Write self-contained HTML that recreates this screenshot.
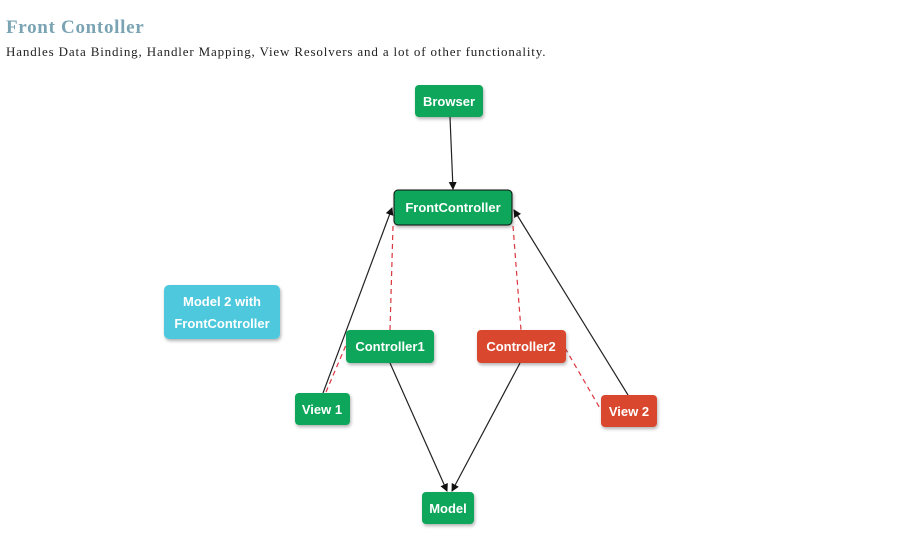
<!DOCTYPE html>
<html><head><style>
body{margin:0;width:916px;height:556px;background:#fff;overflow:hidden;position:relative}
h1{position:absolute;left:6px;top:17px;margin:0;font:bold 19px "Liberation Serif",serif;color:#7aa4b3;letter-spacing:0.7px}
p{position:absolute;left:6px;top:44px;margin:0;font:13px "Liberation Serif",serif;color:#222;letter-spacing:0.85px}
svg{position:absolute;left:0;top:0}
text{font:bold 13px "Liberation Sans",sans-serif;fill:#fff;text-anchor:middle}
</style></head><body>
<h1>Front Contoller</h1>
<p>Handles Data Binding, Handler Mapping, View Resolvers and a lot of other functionality.</p>
<svg width="916" height="556">
<defs>
<marker id="a" markerWidth="8" markerHeight="8" refX="7" refY="4" orient="auto" markerUnits="userSpaceOnUse"><path d="M0,0L8,4L0,8z" fill="#111"/></marker>
<filter id="s"><feDropShadow dx="1" dy="2" stdDeviation="1.5" flood-opacity="0.3"/></filter>
</defs>
<g stroke="#d9363e" stroke-width="1.2" stroke-dasharray="5,4" fill="none">
<line x1="393" y1="226" x2="390" y2="330"/>
<line x1="513" y1="226" x2="521" y2="330"/>
<line x1="565" y1="348" x2="601" y2="410"/>
<line x1="326" y1="392" x2="346" y2="345"/>
</g>
<g stroke="#222" stroke-width="1.2" fill="none" marker-end="url(#a)">
<line x1="450" y1="117" x2="453" y2="189"/>
<line x1="323" y1="393" x2="392" y2="208"/>
<line x1="628" y1="395" x2="514" y2="210"/>
<line x1="390" y1="363" x2="447" y2="491"/>
<line x1="520" y1="363" x2="452" y2="491"/>
</g>
<g filter="url(#s)">
<rect x="415" y="85" width="68" height="32" rx="4" fill="#0aa65a"/>
<rect x="394" y="190" width="118" height="35" rx="4" fill="#0aa65a" stroke="#111" stroke-width="1"/>
<rect x="164" y="285" width="116" height="54" rx="5" fill="#4dc8dc"/>
<rect x="346" y="330" width="88" height="33" rx="4" fill="#0aa65a"/>
<rect x="477" y="330" width="89" height="33" rx="4" fill="#d9472f"/>
<rect x="295" y="393" width="55" height="32" rx="4" fill="#0aa65a"/>
<rect x="601" y="395" width="56" height="32" rx="4" fill="#d9472f"/>
<rect x="422" y="492" width="52" height="32" rx="4" fill="#0aa65a"/>
</g>
<text x="449" y="106">Browser</text>
<text x="453" y="212">FrontController</text>
<text x="222" y="306">Model 2 with</text>
<text x="222" y="328">FrontController</text>
<text x="390" y="351">Controller1</text>
<text x="521" y="351">Controller2</text>
<text x="322" y="414">View 1</text>
<text x="629" y="416">View 2</text>
<text x="448" y="513">Model</text>
</svg>
</body></html>
